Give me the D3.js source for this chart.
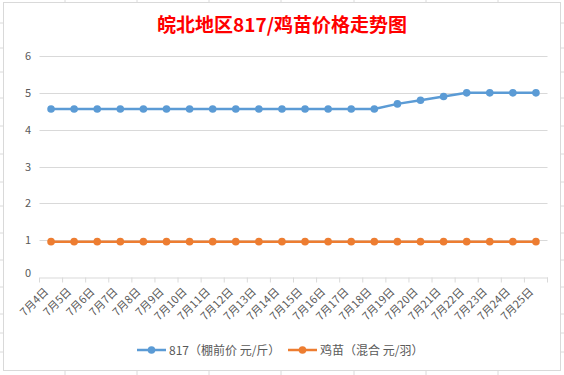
<!DOCTYPE html>
<html>
<head>
<meta charset="utf-8">
<script src="https://cdn.jsdelivr.net/npm/d3@7"></script>
<style>
  body { margin: 0; background: #fff; }
  svg { display: block; font-family: "Noto Sans CJK SC", "Noto Sans", sans-serif; }
</style>
</head>
<body>
<div id="chart"></div>
<script>
// chart data
var dates = ["7月4日","7月5日","7月6日","7月7日","7月8日","7月9日","7月10日","7月11日",
             "7月12日","7月13日","7月14日","7月15日","7月16日","7月17日","7月18日",
             "7月19日","7月20日","7月21日","7月22日","7月23日","7月24日","7月25日"]
var price817 = [4.56,4.56,4.56,4.56,4.56,4.56,4.56,4.56,4.56,4.56,4.56,4.56,4.56,4.56,4.56,
                4.7,4.8,4.9,5.0,5.0,5.0,5.0]
var priceChick = [0.96,0.96,0.96,0.96,0.96,0.96,0.96,0.96,0.96,0.96,0.96,0.96,0.96,0.96,0.96,
                  0.96,0.96,0.96,0.96,0.96,0.96,0.96]
var yTicks = [0, 1, 2, 3, 4, 5, 6]
var seriesNames = ["817（棚前价 元/斤）", "鸡苗（混合 元/羽）"]
var seriesColors = ["#5b9bd5", "#ed7d31"]

var width = 564, height = 375

var svg = d3.select("#chart")
  .append("svg")
    .attr("width", width)
    .attr("height", height)

// spreadsheet cells peeking out behind the chart
var colLines = [65, 137, 209, 281, 354, 426, 498]
var rowLines = [23, 48, 72, 98, 126, 154, 182, 206, 233, 260, 287, 314, 333, 352]
svg.append("g").selectAll("line").data(colLines).enter().append("line")
  .attr("x1", function(d){ return d }).attr("x2", function(d){ return d })
  .attr("y1", 0).attr("y2", height)
  .style("stroke", "#dadada")
svg.append("g").selectAll("line").data(rowLines).enter().append("line")
  .attr("x1", 0).attr("x2", width)
  .attr("y1", function(d){ return d }).attr("y2", function(d){ return d })
  .style("stroke", "#dadada")

// chart frame
svg.append("rect")
  .attr("x", 3.5).attr("y", 2.5)
  .attr("width", 557).attr("height", 368)
  .style("fill", "#fff")
  .style("stroke", "#d9d9d9")

// title
svg.append("text")
  .attr("x", 282).attr("y", 32)
  .attr("text-anchor", "middle")
  .style("font-size", "19px")
  .style("font-weight", "bold")
  .style("fill", "#ff0000")
  .text("皖北地区817/鸡苗价格走势图")

// scales
var x = d3.scaleBand()
  .domain(dates)
  .range([39.5, 547.5])

var y = d3.scaleLinear()
  .domain([0, 6])
  .range([277, 56])

// horizontal gridlines
svg.append("g").selectAll("line")
  .data(yTicks.filter(function(d){ return d > 0 }))
  .enter().append("line")
  .attr("x1", 39.5).attr("x2", 547.5)
  .attr("y1", function(d){ return Math.round(y(d)) + 0.5 })
  .attr("y2", function(d){ return Math.round(y(d)) + 0.5 })
  .style("stroke", "#d9d9d9")

// y axis labels
svg.append("g").selectAll("text")
  .data(yTicks)
  .enter().append("text")
  .attr("x", 31)
  .attr("y", function(d){ return y(d) + (d == 0 ? 0 : 4) })
  .attr("text-anchor", "end")
  .style("font-size", "11px")
  .style("fill", "#595959")
  .text(function(d){ return d })

// x axis
var xAxis = svg.append("g")
  .attr("transform", "translate(0," + (Math.round(y(0)) + 0.5) + ")")
  .call(d3.axisBottom(x).tickSize(5).tickSizeOuter(0))
xAxis.select(".domain").style("stroke", "#d9d9d9")
xAxis.selectAll(".tick line")
  .attr("transform", function(){ return "translate(" + (-x.bandwidth() / 2) + ",0)" })
  .style("stroke", "#d9d9d9")
xAxis.append("line")
  .attr("x1", 547.5).attr("x2", 547.5).attr("y1", 0).attr("y2", 5)
  .style("stroke", "#d9d9d9")
xAxis.selectAll(".tick text")
  .attr("x", 0).attr("y", 0).attr("dy", 0)
  .attr("transform", "translate(-2,15) rotate(-45)")
  .attr("text-anchor", "end")
  .style("font-family", "'Noto Sans CJK SC', sans-serif")
  .style("font-size", "11px")
  .style("fill", "#595959")

// series
var series = [price817, priceChick]
var line = d3.line()
  .x(function(d, i){ return x(dates[i]) + x.bandwidth() / 2 })
  .y(function(d){ return y(d) })

series.forEach(function(vals, k) {
  svg.append("path")
    .datum(vals)
    .attr("d", line)
    .style("fill", "none")
    .style("stroke", seriesColors[k])
    .style("stroke-width", 2.5)
    .style("stroke-linejoin", "round")

  svg.append("g").selectAll("circle")
    .data(vals)
    .enter().append("circle")
    .attr("cx", function(d, i){ return x(dates[i]) + x.bandwidth() / 2 })
    .attr("cy", function(d){ return y(d) })
    .attr("r", 3.8)
    .style("fill", seriesColors[k])
})

// legend
var legendX = [137, 288]
var legend = svg.append("g").selectAll("g")
  .data(seriesNames)
  .enter().append("g")
  .attr("transform", function(d, i){ return "translate(" + legendX[i] + ",350)" })
legend.append("line")
  .attr("x1", 0).attr("x2", 29)
  .style("stroke", function(d, i){ return seriesColors[i] })
  .style("stroke-width", 2.5)
legend.append("circle")
  .attr("cx", 14.5).attr("r", 3.8)
  .style("fill", function(d, i){ return seriesColors[i] })
legend.append("text")
  .attr("x", 32).attr("y", 4.5)
  .style("font-size", "12px")
  .style("fill", "#595959")
  .text(function(d){ return d })
</script>
</body>
</html>
